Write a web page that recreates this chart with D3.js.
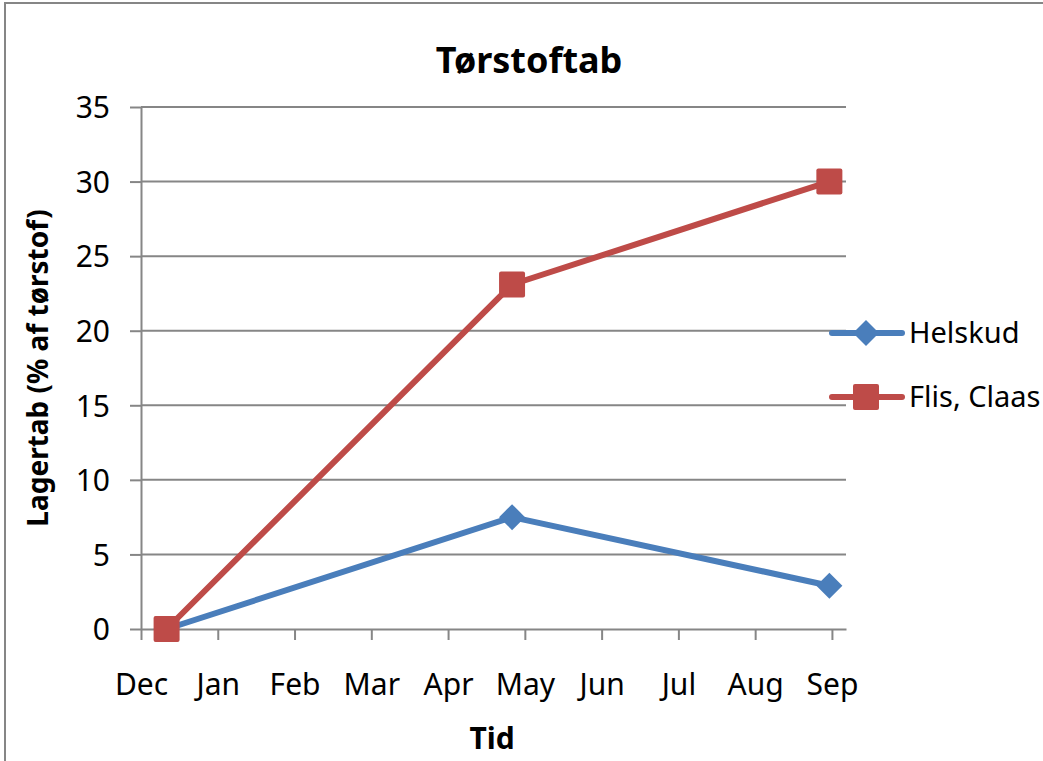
<!DOCTYPE html>
<html lang="da">
<head>
  <meta charset="UTF-8">
  <title>Tørstoftab</title>
  <style>
    body {
      margin: 0;
      padding: 0;
      background: #fff;
      font-family: "Noto Sans", Arial, sans-serif;
    }
    .axis text {
      font-family: "Noto Sans", Arial, sans-serif;
      font-size: 30px;
      fill: #000;
    }
    .axis path, .axis line {
      stroke: #868686;
      stroke-width: 2;
    }
  </style>
</head>
<body>
  <svg id="chart" width="1043" height="761"></svg>
  <script src="https://d3js.org/d3.v7.min.js"></script>
  <script>
    // data (x = days after 1 Dec)
    const monthLabels = ['Dec', 'Jan', 'Feb', 'Mar', 'Apr', 'May', 'Jun', 'Jul', 'Aug', 'Sep'];
    const tickDays = [0, 30, 60, 90, 120, 150, 180, 210, 240, 270];
    const sampleDays = [10, 145, 269];
    const helskud = [0, 7.5, 2.9];
    const flisClaas = [0, 23.1, 30.0];
    const yTicks = [0, 5, 10, 15, 20, 25, 30, 35];

    const series = [
      { name: 'Helskud', values: helskud, color: '#4A7EBB', marker: 'diamond' },
      { name: 'Flis, Claas', values: flisClaas, color: '#BE4B48', marker: 'square' }
    ];

    const svg = d3.select('#chart');

    // chart border
    svg.append('rect')
      .attr('x', 5)
      .attr('y', 3)
      .attr('width', 1100)
      .attr('height', 800)
      .attr('fill', 'none')
      .attr('stroke', '#868686')
      .attr('stroke-width', 2);

    const plotLeft = 141, plotRight = 846, plotTop = 107, plotBottom = 629;

    const xScale = d3.scaleLinear()
      .domain([0, 275.5])
      .range([plotLeft, plotRight]);

    const yScale = d3.scaleLinear()
      .domain([0, 35])
      .range([plotBottom, plotTop]);

    // gridlines
    svg.append('g')
      .selectAll('line')
      .data(yTicks.slice(1))
      .enter()
      .append('line')
      .attr('x1', plotLeft)
      .attr('x2', plotRight)
      .attr('y1', d => yScale(d))
      .attr('y2', d => yScale(d))
      .attr('stroke', '#868686')
      .attr('stroke-width', 2);

    const xAxis = d3.axisBottom(xScale)
      .tickValues(tickDays)
      .tickFormat((d, i) => monthLabels[i])
      .tickSize(11)
      .tickSizeOuter(0)
      .tickPadding(34);

    const yAxis = d3.axisLeft(yScale)
      .tickValues(yTicks)
      .tickSize(11)
      .tickSizeOuter(0)
      .tickPadding(20);

    svg.append('g')
      .attr('class', 'axis x-axis')
      .attr('transform', `translate(0, ${plotBottom})`)
      .call(xAxis);

    svg.append('g')
      .attr('class', 'axis y-axis')
      .attr('transform', `translate(${plotLeft}, 0)`)
      .call(yAxis);

    svg.selectAll('.y-axis text').attr('dy', '0.36em');

    const line = d3.line()
      .x((d, i) => xScale(sampleDays[i]))
      .y(d => yScale(d));

    // lines
    series.forEach(s => {
      svg.append('path')
        .datum(s.values)
        .attr('d', line)
        .attr('fill', 'none')
        .attr('stroke', s.color)
        .attr('stroke-width', 6)
        .attr('stroke-linejoin', 'round');
    });

    // markers
    function drawMarker(g, type, color, x, y) {
      if (type === 'square') {
        g.append('rect')
          .attr('x', x - 13)
          .attr('y', y - 13)
          .attr('width', 26)
          .attr('height', 26)
          .attr('rx', 2)
          .attr('fill', color);
      } else {
        g.append('path')
          .attr('d', `M${x},${y - 13}L${x + 13},${y}L${x},${y + 13}L${x - 13},${y}Z`)
          .attr('fill', color);
      }
    }

    series.forEach(s => {
      const g = svg.append('g');
      s.values.forEach((v, i) => drawMarker(g, s.marker, s.color, xScale(sampleDays[i]), yScale(v)));
    });

    // legend
    const legend = svg.append('g');
    series.forEach((s, i) => {
      const ly = 333 + i * 64;
      legend.append('line')
        .attr('x1', 832)
        .attr('x2', 902)
        .attr('y1', ly)
        .attr('y2', ly)
        .attr('stroke', s.color)
        .attr('stroke-width', 6)
        .attr('stroke-linecap', 'round');
      drawMarker(legend, s.marker, s.color, 866, ly);
      legend.append('text')
        .attr('x', 909)
        .attr('y', ly + 10)
        .style('font-size', '29px')
        .text(s.name);
    });

    // title
    svg.append('text')
      .attr('x', 529)
      .attr('y', 73)
      .attr('text-anchor', 'middle')
      .style('font-size', '36px')
      .style('font-weight', 'bold')
      .text('Tørstoftab');

    // x axis label
    svg.append('text')
      .attr('x', 492)
      .attr('y', 749)
      .attr('text-anchor', 'middle')
      .style('font-size', '30px')
      .style('font-weight', 'bold')
      .text('Tid');

    // y axis label
    svg.append('text')
      .attr('transform', 'translate(48, 368) rotate(-90)')
      .attr('text-anchor', 'middle')
      .style('font-size', '28px')
      .style('font-weight', 'bold')
      .text('Lagertab (% af tørstof)');
  </script>
</body>
</html>
